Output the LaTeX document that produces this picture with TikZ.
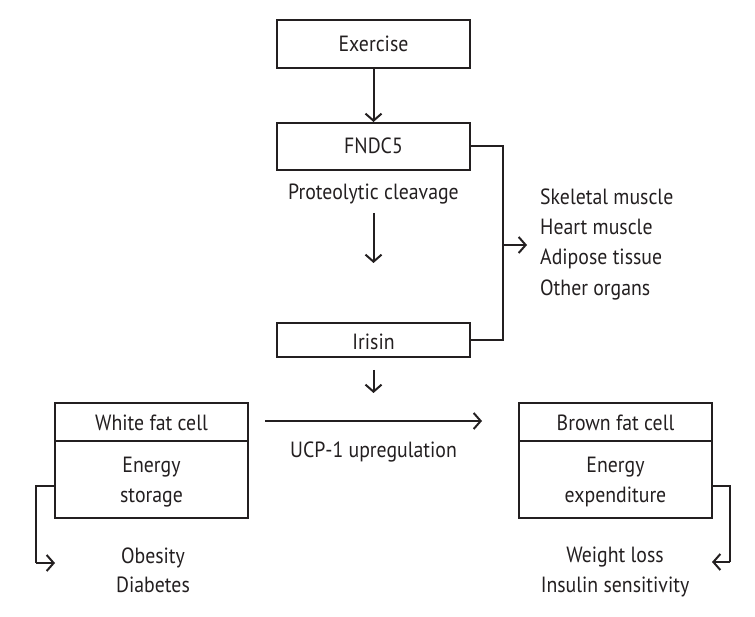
\documentclass[tikz,border=0pt]{standalone}
\usepackage{fontspec}
\setmainfont{PT Sans}[FakeStretch=0.9]
\usetikzlibrary{arrows.meta}
\definecolor{ink}{HTML}{231F20}
\begin{document}
\begin{tikzpicture}[x=1pt,y=-1pt,
  every node/.style={font=\fontsize{22}{26}\selectfont, text=ink},
  box/.style={draw=ink, line width=2pt, minimum width=193pt, inner sep=0pt},
  lbl/.style={anchor=base, inner sep=0pt},
  arr/.style={draw=ink, line width=2pt, -{Straight Barb[length=7pt,width=16pt,line width=2pt]}},
  ln/.style={draw=ink, line width=2pt}]
\useasboundingbox (0,0) rectangle (755,617);
% top chain
\node[box, minimum height=48pt] (ex) at (373.5,44) {};
\node[lbl] (ext) at (373.5,52) {Exercise};
\node[box, minimum height=47pt] (fn) at (373.5,146.5) {};
\node[lbl] (fnt) at (373.5,154) {FNDC5};
\node[lbl] (pc) at (373.5,200) {Proteolytic cleavage};
\node[box, minimum height=34pt] (ir) at (373.5,340) {};
\node[lbl] (irt) at (373.5,350) {Irisin};
\draw[arr] (ex.south) -- (fn.north);
\coordinate (pa) at (373.5,213);
\coordinate (pb) at (373.5,263);
\draw[arr] (pa) -- (pb);
% bracket to organs
\coordinate (bx) at (503,245);
\coordinate (bt) at (527,245);
\draw[ln] (fn.east) -- (fn.east -| bx) -- (ir.east -| bx) -- (ir.east);
\draw[arr] (bx) -- (bt);
\node[lbl, anchor=base west] (o1) at (540,205) {Skeletal muscle};
\node[lbl, anchor=base west] (o2) at (540,235) {Heart muscle};
\node[lbl, anchor=base west] (o3) at (540,265) {Adipose tissue};
\node[lbl, anchor=base west] (o4) at (540,296) {Other organs};
% irisin down
\coordinate (ia) at (373.5,370);
\coordinate (ib) at (373.5,393);
\draw[arr] (ia) -- (ib);
% UCP arrow
\coordinate (ua) at (265,421);
\coordinate (ub) at (482,421);
\draw[arr] (ua) -- (ub);
\node[lbl] (ucp) at (373.5,457) {UCP-1 upregulation};
% white fat cell
\node[box, minimum height=38pt] (wh) at (151.5,422) {};
\node[box, minimum height=77pt] (wb) at (151.5,479.5) {};
\node[lbl] (wht) at (151.5,431) {White fat cell};
\node[lbl] (wbt1) at (151.5,472) {Energy};
\node[lbl] (wbt2) at (151.5,502) {storage};
\node[lbl] (ob1) at (153,563) {Obesity};
\node[lbl] (ob2) at (153,592) {Diabetes};
\coordinate (wl) at (36,486);
\coordinate (wa) at (36,563);
\coordinate (we) at (55,563);
\draw[ln] (wb.west |- wl) -- (wl) -- (wa);
\draw[arr] (wa) -- (we);
% brown fat cell
\node[box, minimum height=38pt] (bh) at (615.5,422) {};
\node[box, minimum height=77pt] (bb) at (615.5,479.5) {};
\node[lbl] (bht) at (615.5,431) {Brown fat cell};
\node[lbl] (bbt1) at (615.5,472) {Energy};
\node[lbl] (bbt2) at (615.5,502) {expenditure};
\node[lbl] (wl1) at (615,562) {Weight loss};
\node[lbl] (wl2) at (615,592) {Insulin sensitivity};
\coordinate (br) at (730,486);
\coordinate (ba) at (730,562);
\coordinate (be) at (712,562);
\draw[ln] (bb.east |- br) -- (br) -- (ba);
\draw[arr] (ba) -- (be);
\end{tikzpicture}
\end{document}
